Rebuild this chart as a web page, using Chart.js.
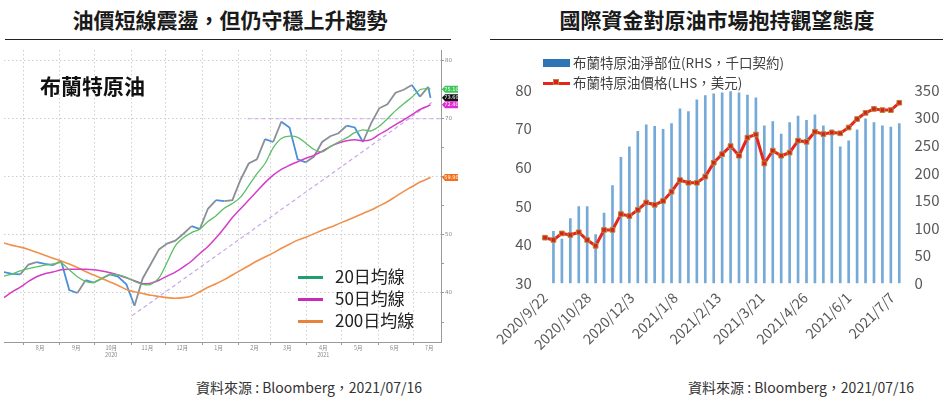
<!DOCTYPE html>
<html lang="zh-Hant">
<head>
<meta charset="utf-8">
<title>布蘭特原油</title>
<script src="https://cdn.jsdelivr.net/npm/chart.js@4.4.1/dist/chart.umd.min.js"></script>
<style>
  html,body{margin:0;padding:0;background:#fff;}
  body{width:951px;height:401px;position:relative;overflow:hidden;
       font-family:"Noto Sans CJK TC","Noto Sans",sans-serif;color:#222;}
  .ttl{position:absolute;top:4px;font-size:21px;font-weight:700;color:#1a1a1a;white-space:nowrap;transform:translateX(-50%);}
  .rule{position:absolute;top:39px;border-top:1.6px solid #222;}
  .src{position:absolute;top:377px;font-size:14px;color:#333;white-space:nowrap;}
  .cv{position:absolute;}
  .inner{position:absolute;left:40px;top:70px;font-size:21px;font-weight:700;color:#111;}
  .lg{position:absolute;font-size:17px;color:#222;white-space:nowrap;line-height:20px;}
  .lg i{display:inline-block;width:25px;height:2.5px;vertical-align:middle;margin-right:12px;position:relative;top:-1px;}
  .rl{position:absolute;left:543px;font-size:13.5px;color:#404040;white-space:nowrap;line-height:18px;}
  .rl .bx{display:inline-block;width:27px;height:8px;background:#2e75b6;vertical-align:middle;margin-right:3px;position:relative;top:-1px;}
  .rl .ln{display:inline-block;width:27px;height:3px;background:#e8251c;vertical-align:middle;margin-right:3px;position:relative;top:-1px;}
  .rl .ln b{position:absolute;left:10px;top:-2.5px;width:6px;height:6px;background:#d42318;border:1px solid #b8863b;box-sizing:border-box;}
</style>
</head>
<body>

<div class="ttl" style="left:230px">油價短線震盪，但仍守穩上升趨勢</div>
<div class="rule" style="left:5px;width:446px"></div>
<div class="ttl" style="left:717px">國際資金對原油市場抱持觀望態度</div>
<div class="rule" style="left:490px;width:453px"></div>

<canvas id="brentChart" class="cv" style="left:0;top:45px" width="460" height="318"></canvas>
<div class="inner">布蘭特原油</div>
<div class="lg" style="left:298px;top:266px"><i style="background:#1f9e6e"></i>20日均線</div>
<div class="lg" style="left:298px;top:288px"><i style="background:#c72cb8"></i>50日均線</div>
<div class="lg" style="left:298px;top:310px"><i style="background:#e8833c"></i>200日均線</div>

<canvas id="flowChart" class="cv" style="left:490px;top:45px" width="461" height="320"></canvas>
<div class="rl" style="top:53px"><span class="bx"></span>布蘭特原油淨部位(RHS，千口契約)</div>
<div class="rl" style="top:73px"><span class="ln"><b></b></span>布蘭特原油價格(LHS，美元)</div>

<div class="src" style="left:196px">資料來源 : Bloomberg，2021/07/16</div>
<div class="src" style="left:688px">資料來源 : Bloomberg，2021/07/16</div>

<script>
/* ---- 左圖資料 (週資料，自圖面讀取) ---- */
const brentDates = [
  '2020-07-15','2020-07-22','2020-07-29','2020-08-05','2020-08-12','2020-08-19','2020-08-26',
  '2020-09-02','2020-09-09','2020-09-16','2020-09-23','2020-09-30','2020-10-07','2020-10-14',
  '2020-10-21','2020-10-28','2020-11-04','2020-11-11','2020-11-18','2020-11-25','2020-12-02',
  '2020-12-09','2020-12-16','2020-12-23','2020-12-30','2021-01-06','2021-01-13','2021-01-20',
  '2021-01-27','2021-02-03','2021-02-10','2021-02-17','2021-02-24','2021-03-03','2021-03-10',
  '2021-03-17','2021-03-24','2021-03-31','2021-04-07','2021-04-14','2021-04-21','2021-04-28',
  '2021-05-05','2021-05-12','2021-05-19','2021-05-26','2021-06-02','2021-06-09','2021-06-16',
  '2021-06-23','2021-06-30','2021-07-07','2021-07-14','2021-07-16'
];
const brentClose = [43.6,43.3,43.2,44.9,45.3,45.0,44.8,45.5,40.5,40.0,42.2,41.8,42.5,43.2,
  42.8,41.5,37.8,42.5,45.0,47.5,48.5,49.0,50.2,51.5,51.0,54.5,56.0,55.8,56.0,59.5,62.3,63.0,
  66.5,66.0,69.5,68.5,63.0,62.5,63.5,66.0,67.0,67.5,68.8,68.5,66.0,69.2,71.8,72.5,74.5,75.0,
  75.8,73.8,75.5,73.6];
const ma20 = [42.9,43.3,43.8,44.2,44.5,44.8,45.0,45.2,44.0,42.8,42.0,41.8,42.5,43.2,43.1,42.7,
  42.0,41.5,41.5,42.6,45.3,48.1,49.5,50.4,51.0,52.3,53.3,54.6,55.4,56.5,58.5,60.5,62.3,65.0,
  66.6,67.0,66.8,65.8,64.7,64.3,65.2,66.0,66.7,67.6,68.1,67.9,68.7,70.0,71.4,72.6,73.7,75.0,
  75.2,75.1];
const ma50 = [39.2,40.2,41.0,42.0,42.8,43.3,43.6,44.0,44.1,44.1,44.1,44.0,43.8,43.5,43.1,42.6,
  42.1,41.6,41.7,42.2,42.9,43.6,44.5,45.5,46.8,48.0,49.5,51.2,53.0,54.5,56.0,57.5,59.0,60.3,
  61.3,62.0,62.6,63.2,63.7,64.4,65.2,65.8,66.2,66.4,66.2,66.4,67.3,68.1,69.0,69.8,70.7,71.6,
  72.2,72.4];
const ma200 = [48.6,48.2,47.9,47.5,47.0,46.5,46.0,45.5,45.0,44.4,43.7,43.1,42.5,41.9,41.3,40.6,
  40.2,39.9,39.6,39.4,39.2,39.1,39.2,39.5,40.2,41.0,41.6,42.3,43.1,43.9,44.7,45.5,46.2,46.9,
  47.7,48.4,49.1,49.6,50.2,50.8,51.3,51.9,52.5,53.1,53.7,54.3,55.0,55.7,56.6,57.5,58.3,59.1,
  59.7,59.9];
const monthStarts = ['2020-08-01','2020-09-01','2020-10-01','2020-11-01','2020-12-01','2021-01-01',
  '2021-02-01','2021-03-01','2021-04-01','2021-05-01','2021-06-01','2021-07-01'];
const monthLabels = ['8月','9月','10月','11月','12月','1月','2月','3月','4月','5月','6月','7月'];
const yearUnder = {'10月':'2020','4月':'2021'};
const leftYTicks = [35,40,45,50,55,60,65,70,75,80];
const resistLine = [['2021-02-09',70],['2021-07-25',70]];
const trendLine = [['2020-11-02',36.1],['2021-07-17',72.8]];

/* ---- 右圖資料 ---- */
const flowDates = [
  '2020-09-22','2020-09-29','2020-10-06','2020-10-13','2020-10-20','2020-10-27','2020-11-03',
  '2020-11-10','2020-11-17','2020-11-24','2020-12-01','2020-12-08','2020-12-15','2020-12-22',
  '2020-12-29','2021-01-05','2021-01-12','2021-01-19','2021-01-26','2021-02-02','2021-02-09',
  '2021-02-16','2021-02-23','2021-03-02','2021-03-09','2021-03-16','2021-03-23','2021-03-30',
  '2021-04-06','2021-04-13','2021-04-20','2021-04-27','2021-05-04','2021-05-11','2021-05-18',
  '2021-05-25','2021-06-01','2021-06-08','2021-06-15','2021-06-22','2021-06-29','2021-07-06',
  '2021-07-13'
];
const netPos = [null,94,80,117,139,139,88,127,177,228,247,275,287,284,279,289,316,311,332,340,
  343,345,347,345,341,336,285,293,270,291,303,295,305,285,278,247,258,278,298,291,285,283,289];
const brentPx = [41.8,41.2,42.9,42.5,43.2,41.2,39.7,43.8,43.8,47.9,47.4,49.0,50.9,50.3,51.3,
  53.7,56.7,56.0,56.0,57.6,61.2,63.4,65.5,63.0,67.7,68.5,61.0,64.3,63.0,63.8,66.9,66.6,69.2,
  68.6,69.0,68.8,70.3,72.5,74.1,75.1,74.8,74.8,76.7];
const flowTickLabels = ['2020/9/22','2020/10/28','2020/12/3','2021/1/8','2021/2/13',
  '2021/3/21','2021/4/26','2021/6/1','2021/7/7'];

/* ---- helpers ---- */
const DAY = 86400000;
const dayNum = (s) => {
  const p = s.split(/[-\/]/).map(Number);
  return Date.UTC(p[0], p[1]-1, p[2]) / DAY;
};
const leftBase = dayNum(brentDates[0]);
const lx = (s) => dayNum(s) - leftBase;
const pts = (arr) => arr.map((v,i)=>({x: lx(brentDates[i]), y: v}));
const last = (a) => a[a.length-1];

const startSet = new Set(monthStarts.map(lx));
const midMap = new Map(monthStarts.map((s,i)=>[lx(s)+14, monthLabels[i]]));
const GRID = '#cfcfcf', NONE = 'rgba(0,0,0,0)';

/* ---- 右側價格標籤 ---- */
const tags = [
  { v: last(ma20),       bg: '#3cc65a' },
  { v: last(brentClose), bg: '#111111' },
  { v: last(ma50),       bg: '#e02ad0' },
  { v: last(ma200),      bg: '#f0701e' }
];
const tagPlugin = {
  id: 'priceTags',
  afterDraw(chart){
    const { ctx, chartArea, scales:{ y } } = chart;
    ctx.save();
    tags.forEach(t => {
      const py = y.getPixelForValue(t.v);
      const x0 = chartArea.right + 1;
      ctx.fillStyle = t.bg;
      ctx.beginPath();
      ctx.moveTo(x0, py);
      ctx.lineTo(x0+3, py-3.5);
      ctx.lineTo(x0+16, py-3.5);
      ctx.lineTo(x0+16, py+3.5);
      ctx.lineTo(x0+3, py+3.5);
      ctx.closePath();
      ctx.fill();
      ctx.fillStyle = '#fff';
      ctx.font = '5px "DejaVu Sans"';
      ctx.textAlign = 'center'; ctx.textBaseline = 'middle';
      ctx.fillText(t.v.toFixed(2), x0+9.5, py+0.3);
    });
    ctx.restore();
  }
};

/* ---- 左圖 ---- */
new Chart(document.getElementById('brentChart').getContext('2d'), {
  type: 'line',
  data: { datasets: [
    { label:'20日均線', data: pts(ma20), borderColor:'#5cbf66', borderWidth:1.3, order:1 },
    { label:'50日均線', data: pts(ma50), borderColor:'#d53cc8', borderWidth:1.5, order:2 },
    { label:'200日均線', data: pts(ma200), borderColor:'#f0904a', borderWidth:1.6, order:3 },
    { label:'布蘭特原油', data: pts(brentClose), borderWidth:1.8, tension:0, order:5,
      segment:{ borderColor: c => c.p1.parsed.y < c.p0.parsed.y ? '#4a90d8' : '#8b9097' } },
    { label:'壓力', data: resistLine.map(([d,v])=>({x:lx(d), y:v})), borderColor:'#c9a6ec',
      borderWidth:1.2, borderDash:[4,3], tension:0, order:6 },
    { label:'趨勢', data: trendLine.map(([d,v])=>({x:lx(d), y:v})), borderColor:'#c9a6ec',
      borderWidth:1.2, borderDash:[4,3], tension:0, order:7 }
  ]},
  options: {
    responsive:false, animation:false,
    layout:{ padding:{ left:4, top:5, right:0, bottom:0 } },
    elements:{ point:{ radius:0 }, line:{ tension:0.3 } },
    plugins:{ legend:{ display:false }, tooltip:{ enabled:false } },
    scales:{
      x:{
        type:'linear', min:0, max:375,
        afterBuildTicks: s => {
          const v = [...startSet, ...midMap.keys()].sort((a,b)=>a-b);
          s.ticks = v.map(value=>({ value }));
        },
        afterFit: s => { s.height = 21; },
        grid:{ color: c => (c.tick && startSet.has(c.tick.value)) ? GRID : NONE,
               tickColor: c => (c.tick && startSet.has(c.tick.value)) ? '#999' : NONE,
               tickLength:3 },
        border:{ color:'#9a9a9a', dash:[1.5,2.5] },
        ticks:{ autoSkip:false, maxRotation:0, minRotation:0, padding:0, color:'#888',
                font:{ size:5.5, family:'"Noto Sans CJK TC"' },
                callback: v => {
                  const m = midMap.get(v);
                  if (!m) return '';
                  return yearUnder[m] ? [m, yearUnder[m]] : m;
                } }
      },
      y:{
        position:'right', min:31.56, max:81.84,
        afterBuildTicks: s => { s.ticks = leftYTicks.map(value=>({ value })); },
        afterFit: s => { s.width = 19; },
        grid:{ color: c => (c.tick && c.tick.value % 10 === 0) ? GRID : NONE,
               tickColor:'#999', tickLength:3 },
        border:{ color:'#9a9a9a', dash:[1.5,2.5] },
        ticks:{ padding:1, color:'#888', font:{ size:5.5, family:'"DejaVu Sans"' },
                callback: v => v % 10 === 0 ? String(v) : '' }
      }
    }
  },
  plugins:[tagPlugin]
});

/* ---- 右圖 ---- */
const flowBase = dayNum(flowDates[0]);
const fx = (s) => dayNum(s) - flowBase;
const flowTickPos = new Map(flowTickLabels.map(l => [fx(l), l]));
const AXIS = '#595959';

new Chart(document.getElementById('flowChart').getContext('2d'), {
  type: 'bar',
  data: { datasets: [
    { type:'line', label:'布蘭特原油價格(LHS，美元)', yAxisID:'y',
      data: brentPx.map((v,i)=>({ x: fx(flowDates[i]), y: v })),
      borderColor:'#e8251c', borderWidth:3, tension:0,
      pointStyle:'rect', pointRadius:3.3, pointBackgroundColor:'#d42318',
      pointBorderColor:'#b8863b', pointBorderWidth:1, order:0 },
    { type:'bar', label:'布蘭特原油淨部位(RHS，千口契約)', yAxisID:'y2',
      data: netPos.map((v,i)=>({ x: fx(flowDates[i]), y: v })),
      backgroundColor:'#74a9d8', barThickness:2, order:1 }
  ]},
  options: {
    responsive:false, animation:false,
    layout:{ padding:{ left:0, top:45, right:0, bottom:0 } },
    plugins:{ legend:{ display:false }, tooltip:{ enabled:false } },
    scales:{
      x:{
        type:'linear', min:-3.5, max:297.5, offset:false,
        afterBuildTicks: s => { s.ticks = [...flowTickPos.keys()].map(value=>({ value })); },
        afterFit: s => { s.height = 81.7; },
        grid:{ display:false, drawTicks:false }, border:{ display:false },
        ticks:{ autoSkip:false, minRotation:45, maxRotation:45, padding:6, color:AXIS,
                font:{ size:14, family:'"Noto Sans CJK TC"' },
                callback: v => flowTickPos.get(v) || '' }
      },
      y:{
        position:'left', min:30, max:80,
        afterFit: s => { s.width = 50.8; },
        grid:{ display:false, drawTicks:false }, border:{ display:false },
        ticks:{ stepSize:10, padding:9, color:AXIS, font:{ size:15, family:'"Noto Sans CJK TC"' } }
      },
      y2:{
        position:'right', min:0, max:350,
        afterFit: s => { s.width = 47.5; },
        grid:{ display:false, drawTicks:false }, border:{ display:false },
        ticks:{ stepSize:50, padding:11, color:AXIS, font:{ size:15, family:'"Noto Sans CJK TC"' } }
      }
    }
  }
});
</script>
</body>
</html>
